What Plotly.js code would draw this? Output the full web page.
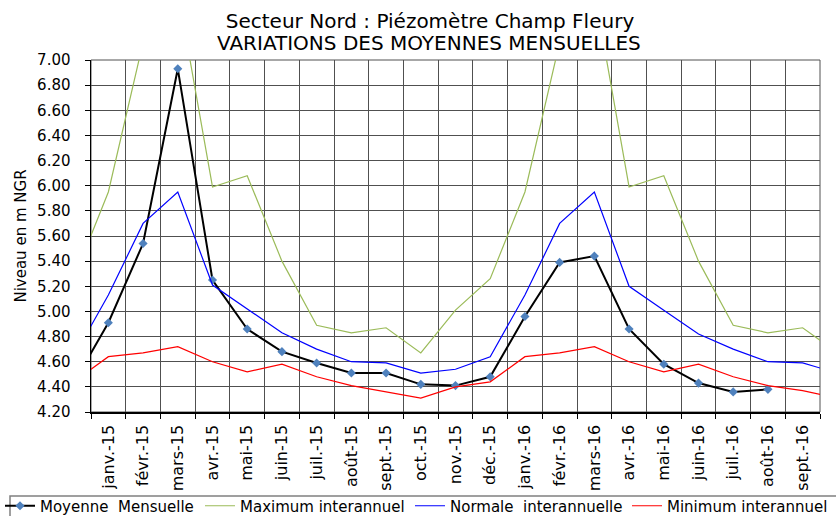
<!DOCTYPE html>
<html>
<head>
<meta charset="utf-8">
<script src="https://cdn.plot.ly/plotly-3.0.1.min.js"></script>
<style>
  html, body { margin: 0; padding: 0; background: #ffffff; }
  #chart { width: 836px; height: 516px; }
</style>
</head>
<body>
<div id="chart"></div>
<script>
// Months (déc.-14 and oct.-16 lie just outside the visible range; the lines run to the frame)
const months = ['déc.-14','janv.-15','févr.-15','mars-15','avr.-15','mai-15','juin-15','juil.-15','août-15','sept.-15','oct.-15','nov.-15','déc.-15',
                'janv.-16','févr.-16','mars-16','avr.-16','mai-16','juin-16','juil.-16','août-16','sept.-16','oct.-16'];

const moyenneMensuelle = [4.43, 4.91, 5.54, 6.93, 5.25, 4.86, 4.68, 4.59, 4.51, 4.51, 4.42, 4.41, 4.48,
                          4.96, 5.39, 5.44, 4.86, 4.58, 4.43, 4.36, 4.38, null, null];
const maximumInterannuel = [5.26, 5.95, 7.14, 7.55, 5.99, 6.08, 5.40, 4.89, 4.83, 4.87, 4.67, 5.01, 5.26,
                            5.95, 7.14, 7.55, 5.99, 6.08, 5.40, 4.89, 4.83, 4.87, 4.67];
const normaleInterannuelle = [4.64, 5.13, 5.70, 5.95, 5.21, 5.02, 4.83, 4.70, 4.60, 4.59, 4.51, 4.54, 4.64,
                              5.13, 5.70, 5.95, 5.20, 5.01, 4.82, 4.70, 4.60, 4.59, 4.51];
const minimumInterannuel = [4.44, 4.64, 4.67, 4.72, 4.60, 4.52, 4.58, 4.48, 4.41, 4.36, 4.31, 4.40, 4.44,
                            4.64, 4.67, 4.72, 4.60, 4.52, 4.58, 4.48, 4.41, 4.37, 4.31];

const seriesNames = ['Moyenne\u00a0 Mensuelle', 'Maximum interannuel', 'Normale\u00a0 interannuelle', 'Minimum interannuel'];
const titleLine1 = 'Secteur Nord : Piézomètre Champ Fleury';
const titleLine2 = 'VARIATIONS DES MOYENNES MENSUELLES';

const FONT = 'DejaVu Sans, Verdana, sans-serif';

const traces = [
  {
    x: months, y: moyenneMensuelle, name: seriesNames[0], type: 'scatter', mode: 'lines+markers',
    line: {color: '#000000', width: 2},
    marker: {symbol: 'diamond', size: 7, color: '#4f81bd'},
    legend: 'legend', connectgaps: false
  },
  {
    x: months, y: maximumInterannuel, name: seriesNames[1], type: 'scatter', mode: 'lines',
    line: {color: '#9bbb59', width: 1.2}, legend: 'legend2'
  },
  {
    x: months, y: normaleInterannuelle, name: seriesNames[2], type: 'scatter', mode: 'lines',
    line: {color: '#0000ff', width: 1.2}, legend: 'legend3'
  },
  {
    x: months, y: minimumInterannuel, name: seriesNames[3], type: 'scatter', mode: 'lines',
    line: {color: '#ff0000', width: 1.2}, legend: 'legend4'
  }
];

const L = 91, R = 16, T = 60, B = 104, W = 836, H = 516;
const pw = W - L - R, ph = H - T - B;
const px2x = p => (p - L) / pw;
const py2y = p => (H - B - p) / ph;

function leg(xpx) {
  return {
    orientation: 'h', x: px2x(xpx), xanchor: 'left', y: py2y(506), yanchor: 'middle',
    font: {family: FONT, size: 15, color: '#000'}, bgcolor: 'rgba(0,0,0,0)', borderwidth: 0,
    itemwidth: 30
  };
}

const layout = {
  width: W, height: H,
  margin: {l: L, r: R, t: T, b: B, autoexpand: false},
  paper_bgcolor: '#ffffff', plot_bgcolor: '#ffffff',
  font: {family: FONT, size: 15, color: '#000'},
  title: {
    text: titleLine1,
    font: {family: FONT, size: 20, color: '#000'},
    xref: 'container', x: 430 / W, xanchor: 'center',
    yref: 'container', y: 1 - 21 / H, yanchor: 'middle'
  },
  annotations: [
    {text: titleLine2, xref: 'paper', yref: 'paper', x: px2x(429), y: py2y(43),
     xanchor: 'center', yanchor: 'middle', showarrow: false,
     font: {family: FONT, size: 20, color: '#000'}}
  ],
  xaxis: {
    type: 'category', categoryorder: 'array', categoryarray: months,
    range: [0.5, 21.5], tickson: 'boundaries',
    showgrid: true, gridcolor: '#505050', gridwidth: 1,
    showline: true, linecolor: '#000', linewidth: 1.5,
    ticks: 'outside', ticklen: 5, tickcolor: '#000', tickwidth: 1,
    tickangle: -90, tickfont: {family: FONT, size: 16, color: '#000'},
    ticklabelstandoff: 5, zeroline: false, fixedrange: true
  },
  yaxis: {
    range: [4.2, 7.0], tick0: 4.2, dtick: 0.2, tickformat: '.2f',
    showgrid: true, gridcolor: '#505050', gridwidth: 1,
    showline: true, linecolor: '#000', linewidth: 1.5,
    ticks: 'outside', ticklen: 5, tickcolor: '#000', tickwidth: 1,
    tickfont: {family: FONT, size: 15, color: '#000'},
    ticklabelstandoff: 11,
    title: {text: 'Niveau en m NGR', font: {family: FONT, size: 15, color: '#000'}, standoff: 7},
    zeroline: false, fixedrange: true
  },
  showlegend: true,
  legend: leg(0),
  legend2: leg(200),
  legend3: leg(410),
  legend4: leg(627),
  shapes: [
    {type: 'rect', xref: 'paper', yref: 'paper', x0: 0, x1: 1, y0: 0, y1: 1,
     line: {color: '#505050', width: 1}, layer: 'below'},
    {type: 'rect', xref: 'paper', yref: 'paper', x0: px2x(10), x1: px2x(860), y0: py2y(496), y1: py2y(540),
     line: {color: '#808080', width: 1.5}, fillcolor: 'rgba(0,0,0,0)', layer: 'above'}
  ]
};

Plotly.newPlot('chart', traces, layout, {staticPlot: true, displayModeBar: false});
</script>
</body>
</html>
